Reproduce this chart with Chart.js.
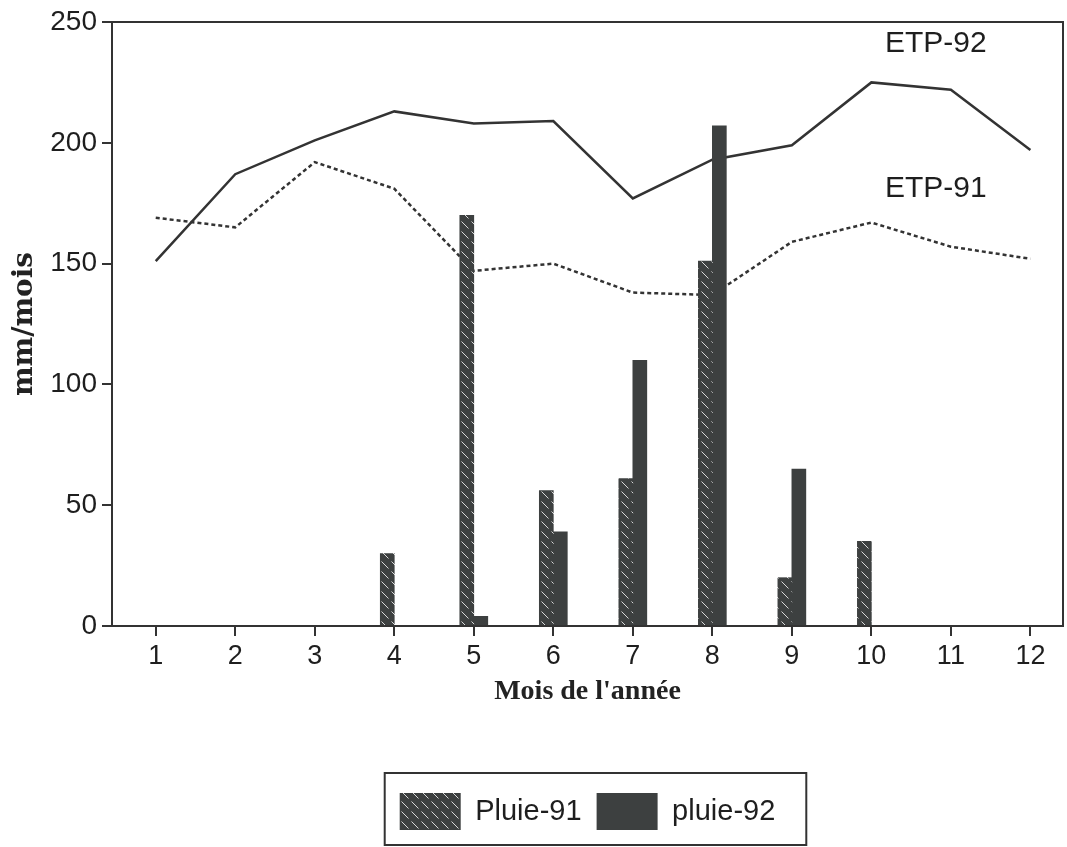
<!DOCTYPE html>
<html>
<head>
<meta charset="utf-8">
<script src="https://cdn.jsdelivr.net/npm/chart.js@4.4.0/dist/chart.umd.min.js"></script>
<style>
  html, body { margin: 0; padding: 0; background: #fff; }
  #wrap { width: 1067px; height: 847px; }
</style>
</head>
<body>
<div id="wrap"><canvas id="myChart"></canvas></div>
<script>
// values (mm/mois)
const months = [1, 2, 3, 4, 5, 6, 7, 8, 9, 10, 11, 12];
const pluie91 = [null, null, null, 30, 170, 56, 61, 151, 20, 35, null, null];
const pluie92 = [null, null, null, null, 4, 39, 110, 207, 65, null, null, null];
const etp92 = [151, 187, 201, 213, 208, 209, 177, 193, 199, 225, 222, 197];
const etp91 = [169, 165, 192, 181, 147, 150, 138, 137, 159, 167, 157, 152];
const yTicks = [0, 50, 100, 150, 200, 250];

const ink = "#333333";
const barColor = "#3d4040";

// hatched fill for Pluie-91
function makeHatch() {
  const c = document.createElement("canvas");
  c.width = 10;
  c.height = 10;
  const g = c.getContext("2d");
  g.fillStyle = barColor;
  g.fillRect(0, 0, 10, 10);
  g.strokeStyle = "#d8d8d8";
  g.lineWidth = 1;
  g.beginPath();
  g.moveTo(1.5, 1.5);
  g.lineTo(8.5, 8.5);
  g.stroke();
  return g.createPattern(c, "repeat");
}

const pts = (arr) => months.map((m, i) => ({ x: m, y: arr[i] }));

// box round the plot, curve names, box round the legend
const framePlugin = {
  id: "frame",
  afterDraw(chart) {
    const { ctx, chartArea: a, scales } = chart;
    ctx.save();
    ctx.strokeStyle = ink;
    ctx.lineWidth = 2;
    ctx.strokeRect(a.left, a.top, a.right - a.left, a.bottom - a.top);

    ctx.fillStyle = "#1e1e1e";
    ctx.font = '30px "Liberation Sans", Arial, sans-serif';
    ctx.textAlign = "left";
    ctx.textBaseline = "middle";
    const lx = scales.x.getPixelForValue(months[10]) - 66;
    ctx.fillText(chart.data.datasets[0].label, lx, scales.y.getPixelForValue(241));
    ctx.fillText(chart.data.datasets[1].label, lx, scales.y.getPixelForValue(181));

    const hb = chart.legend.legendHitBoxes;
    if (hb && hb.length) {
      const first = hb[0];
      const last = hb[hb.length - 1];
      const left = first.left - 15;
      const right = last.left + last.width + 31;
      const top = first.top - 20;
      const bottom = first.top + first.height + 15;
      ctx.strokeRect(left, top, right - left, bottom - top);
    }
    ctx.restore();
  },
};

const ctx = document.getElementById("myChart");
const myChart = new Chart(ctx, {
  type: "bar",
  data: {
    datasets: [
      {
        type: "line",
        label: "ETP-92",
        data: pts(etp92),
        borderColor: ink,
        borderWidth: 2.5,
        pointRadius: 0,
        tension: 0,
        order: 2,
      },
      {
        type: "line",
        label: "ETP-91",
        data: pts(etp91),
        borderColor: ink,
        borderWidth: 2.5,
        borderDash: [4, 3],
        pointRadius: 0,
        tension: 0,
        order: 2,
      },
      {
        label: "Pluie-91",
        data: pts(pluie91),
        backgroundColor: makeHatch(),
        borderWidth: 0,
        order: 1,
      },
      {
        label: "pluie-92",
        data: pts(pluie92),
        backgroundColor: barColor,
        borderWidth: 0,
        order: 1,
      },
    ],
  },
  options: {
    responsive: true,
    maintainAspectRatio: false,
    animation: false,
    layout: { padding: { top: 22, right: 4, bottom: 7, left: 0 } },
    datasets: { bar: { barThickness: 14 } },
    scales: {
      x: {
        type: "linear",
        offset: false,
        min: 0.45,
        max: 12.41,
        afterBuildTicks: (s) => {
          s.ticks = months.map((v) => ({ value: v }));
        },
        afterFit: (s) => {
          s.height = 152;
        },
        grid: { display: true, offset: false, drawOnChartArea: false, drawTicks: true, tickLength: 10, color: ink, lineWidth: 2 },
        border: { display: false },
        ticks: {
          font: { family: "'Liberation Sans', Arial, sans-serif", size: 27 },
          color: "#1e1e1e",
          padding: 4,
          maxRotation: 0,
        },
        title: {
          display: true,
          text: "Mois de l'année",
          font: { family: "'Liberation Serif', 'Times New Roman', serif", size: 28, weight: "bold" },
          color: "#222",
          padding: { top: 0, bottom: 69 },
        },
      },
      y: {
        min: 0,
        max: 250,
        afterBuildTicks: (s) => {
          s.ticks = yTicks.map((v) => ({ value: v }));
        },
        afterFit: (s) => {
          s.width = 112;
        },
        grid: { display: true, drawOnChartArea: false, drawTicks: true, tickLength: 10, color: ink, lineWidth: 2 },
        border: { display: false },
        ticks: {
          font: { family: "'Liberation Sans', Arial, sans-serif", size: 28 },
          color: "#1e1e1e",
          padding: 5,
        },
        title: {
          display: true,
          text: "mm/mois",
          font: { family: "'DejaVu Serif', serif", size: 28, weight: "bold" },
          color: "#222",
          padding: { top: 8, bottom: 0 },
        },
      },
    },
    plugins: {
      legend: {
        position: "bottom",
        fullSize: false,
        labels: {
          filter: (item) => item.datasetIndex >= 2,
          boxWidth: 61,
          boxHeight: 37,
          padding: 15,
          color: "#1e1e1e",
          font: { family: "'Liberation Sans', Arial, sans-serif", size: 29 },
        },
      },
      tooltip: { enabled: false },
    },
  },
  plugins: [framePlugin],
});
</script>
</body>
</html>
